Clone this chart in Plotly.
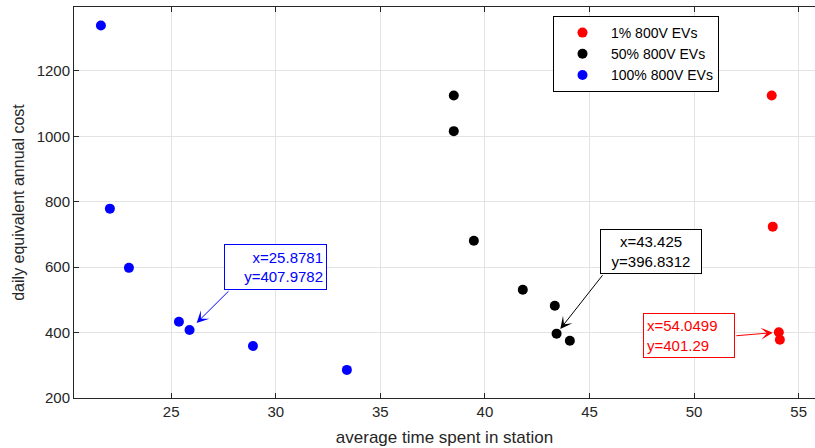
import plotly.graph_objects as go

series_names = ["1% 800V EVs", "50% 800V EVs", "100% 800V EVs"]
colors = ["#ff0000", "#000000", "#0000ff"]

x_1 = [53.71, 53.76, 54.0499, 54.10]
y_1 = [1125, 724, 401.29, 378]

x_50 = [38.51, 38.51, 39.47, 41.81, 43.34, 43.425, 44.06]
y_50 = [1125, 1016, 681, 531, 482, 396.8312, 375]

x_100 = [21.64, 22.07, 22.98, 25.37, 25.8781, 28.91, 33.40]
y_100 = [1339, 779, 598, 433, 407.9782, 359, 286]

x_ticks = [25, 30, 35, 40, 45, 50, 55]
y_ticks = [200, 400, 600, 800, 1000, 1200]

FONT = "Liberation Sans"
AX = "#262626"

fig = go.Figure()
for name, xs, ys, c in zip(series_names, [x_1, x_50, x_100], [y_1, y_50, y_100], colors):
    fig.add_trace(go.Scatter(x=xs, y=ys, mode="markers", name=name,
                             marker=dict(color=c, size=10, line=dict(width=0))))

# data tips: point, colour, box center, arrow tail, standoff, box w/h, align
tips = [
    (x_100[4], y_100[4], colors[2], 29.98, 601, 27.81, 531, 10, 95, 38, "right"),
    (x_50[5], y_50[5], colors[1], 47.93, 649, 45.68, 580, 6, 94, 37, "center"),
    (x_1[2], y_1[2], colors[0], 49.75, 391, 51.95, 390, 6, 84, 37, "left"),
]
for px, py, c, bx, by, tx, ty, so, w, h, al in tips:
    fig.add_annotation(x=px, y=py, ax=tx, ay=ty, axref="x", ayref="y", xref="x", yref="y",
                       text="", showarrow=True, arrowhead=3, arrowsize=2, arrowwidth=1,
                       arrowcolor=c, standoff=so)
    fig.add_annotation(x=bx, y=by, xref="x", yref="y", showarrow=False,
                       text=f"x={px}<br>y={py}", width=w, height=h,
                       font=dict(family=FONT, size=15, color=c), bgcolor="white",
                       bordercolor=c, borderwidth=1, borderpad=3, align=al)

fig.update_layout(
    width=815, height=448,
    margin=dict(l=74, r=0, t=7, b=50),
    plot_bgcolor="white", paper_bgcolor="white",
    font=dict(family=FONT, size=15, color=AX),
    legend=dict(x=(553 - 74) / 741, y=(398 - 16) / 391, xanchor="left", yanchor="top",
                bordercolor="#000000", borderwidth=1, bgcolor="white",
                font=dict(family=FONT, size=14, color="#000000"),
                itemwidth=47, tracegroupgap=0),
    showlegend=True,
)
fig.update_xaxes(range=[20.354, 55.78], tickvals=x_ticks, showgrid=True, gridcolor="#e3e3e3",
                 zeroline=False, showline=True, linecolor=AX, linewidth=1, mirror="ticks",
                 ticks="inside", ticklen=5, tickcolor=AX, automargin=False,
                 title=dict(text="average time spent in station", font=dict(size=17), standoff=12))
fig.update_yaxes(range=[200, 1395.7], tickvals=y_ticks, showgrid=True, gridcolor="#e3e3e3",
                 zeroline=False, showline=True, linecolor=AX, linewidth=1, mirror=False,
                 ticks="inside", ticklen=5, tickcolor=AX, automargin=False,
                 title=dict(text="daily equivalent annual cost", font=dict(size=16), standoff=8))

fig.write_html("out.html", config={"displayModeBar": False},
               post_script="document.body.style.margin='0';document.body.style.overflow='hidden';")
